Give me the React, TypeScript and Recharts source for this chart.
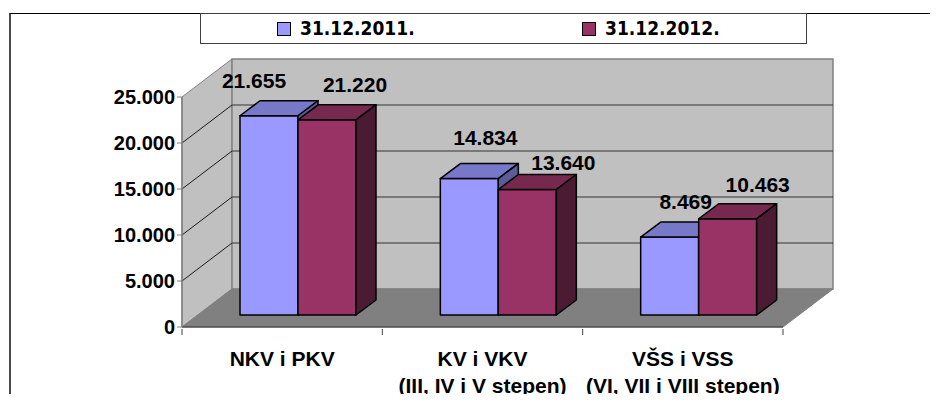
import { BarChart, Bar, XAxis, YAxis, ReferenceArea, ReferenceLine, LabelList } from 'recharts';

const categories = ['NKV i PKV', 'KV i VKV', 'VŠS i VSS'];
const subLabels = ['', '(III, IV i V stepen)', '(VI, VII i VIII stepen)'];
const values2011 = [21655, 14834, 8469];
const values2012 = [21220, 13640, 10463];
const seriesNames = ['31.12.2011.', '31.12.2012.'];
const yTicks = [0, 5000, 10000, 15000, 20000, 25000];

const data = categories.map((name, i) => ({ name, y2011: values2011[i], y2012: values2012[i] }));

const FONT = "'Liberation Sans', Arial, sans-serif";
const LEGEND_FONT = "'DejaVu Sans Condensed', 'DejaVu Sans', sans-serif";

// 3D look: wall depth, bar front offset, bar depth
const WALL = { dx: 50, dy: -38 };
const FRONT = { dx: 16, dy: -12 };
const DEPTH = { dx: 20, dy: -15 };

const BLUE = { front: '#9999FF', top: '#7878C8', side: '#5C5C99' };
const MAROON = { front: '#993366', top: '#76284F', side: '#4B1A33' };

// labels were hand-placed in the original, nudge them per bar [dx, dy]
const NUDGE_2011 = [[-15, -28], [16, -34], [16, -28]];
const NUDGE_2012 = [[28, -28], [36, -20], [30, -27]];

const fmt = (v: number) => String(v).replace(/\B(?=(\d{3})+(?!\d))/g, '.');

function Walls(props: any) {
  const { x, y, width: w, height: h } = props;
  const bx = x + WALL.dx, by = y + WALL.dy;
  return (
    <g>
      <polygon points={`${x},${y} ${bx},${by} ${bx},${by + h} ${x},${y + h}`} fill="#C0C0C0" stroke="#808080" />
      <rect x={bx} y={by} width={w} height={h} fill="#C0C0C0" stroke="#808080" strokeWidth={1.5} />
      <polygon points={`${x},${y + h} ${x + w},${y + h} ${bx + w},${by + h} ${bx},${by + h}`} fill="#808080" stroke="#808080" />
    </g>
  );
}

function GridLine(props: any) {
  const { x1, y1, x2 } = props;
  return (
    <g>
      <line x1={x1} y1={y1} x2={x1 + WALL.dx} y2={y1 + WALL.dy} stroke="#1a1a1a" strokeWidth={1} />
      <line x1={x1 + WALL.dx} y1={y1 + WALL.dy} x2={x2 + WALL.dx} y2={y1 + WALL.dy} stroke="#333" strokeWidth={1.2} />
    </g>
  );
}

function Box3D(props: any) {
  const { x, y, width: w, height: h, colors } = props;
  const X = x + FRONT.dx, Y = y + FRONT.dy;
  const dx = DEPTH.dx, dy = DEPTH.dy;
  const sw = { stroke: '#000', strokeWidth: 1.5, strokeLinejoin: 'round' as const };
  return (
    <g>
      <rect x={X} y={Y} width={w} height={h} fill={colors.front} {...sw} />
      <polygon points={`${X},${Y} ${X + w},${Y} ${X + w + dx},${Y + dy} ${X + dx},${Y + dy}`} fill={colors.top} {...sw} />
      <polygon points={`${X + w},${Y} ${X + w + dx},${Y + dy} ${X + w + dx},${Y + h + dy} ${X + w},${Y + h}`} fill={colors.side} {...sw} />
    </g>
  );
}

const valueLabel = (nudge: number[][]) => (p: any) => {
  const { x, y, width, value, index } = p;
  const [ndx, ndy] = nudge[index] ?? [16, -28];
  return (
    <text x={x + FRONT.dx + width / 2 + ndx} y={y + FRONT.dy + ndy} textAnchor="middle" fontFamily={FONT} fontWeight="bold" fontSize={21} fill="#000">
      {fmt(value)}
    </text>
  );
};

function CategoryTick(props: any) {
  const { x, y, payload, index } = props;
  const half = payload?.offset ?? 100;
  const i = categories.indexOf(payload.value);
  const isLast = index === categories.length - 1;
  return (
    <g>
      <line x1={x - half} y1={y} x2={x - half} y2={y + 6} stroke="#404040" />
      {isLast && <line x1={x + half} y1={y} x2={x + half} y2={y + 6} stroke="#404040" />}
      <text x={x} y={y + 37} textAnchor="middle" fontFamily={FONT} fontWeight="bold" fontSize={21} fill="#000">
        {payload.value}
      </text>
      {subLabels[i] && (
        <text x={x} y={y + 64} textAnchor="middle" fontFamily={FONT} fontWeight="bold" fontSize={21} fill="#000">
          {subLabels[i]}
        </text>
      )}
    </g>
  );
}

function LegendBox() {
  const colors = [BLUE.front, MAROON.front];
  const lefts = [76, 381];
  return (
    <div style={{ position: 'absolute', left: 200, top: 13, width: 605, height: 29, border: '1px solid #404040', background: '#fff' }}>
      {seriesNames.map((n, i) => (
        <div key={n} style={{ position: 'absolute', left: lefts[i], top: 0, height: 29, display: 'flex', alignItems: 'center', gap: 9 }}>
          <span style={{ display: 'inline-block', width: 12, height: 12, background: colors[i], border: '1.5px solid #000' }} />
          <span style={{ fontFamily: LEGEND_FONT, fontStretch: 'condensed', fontWeight: 'bold', fontSize: 19, color: '#000', lineHeight: '29px' }}>{n}</span>
        </div>
      ))}
    </div>
  );
}

export default function App() {
  return (
    <div style={{ position: 'relative', width: 938, height: 402, margin: -8, overflow: 'hidden', background: '#fff' }}>
      <div style={{ position: 'absolute', left: 9, top: 13, width: 1000, height: 1000, borderTop: '1.5px solid #000', borderLeft: '2px solid #4a4a4a' }} />
      <div style={{ position: 'absolute', left: 0, top: 0 }}>
        <BarChart width={938} height={402} data={data} barGap={0} barSize={58} margin={{ top: 97, right: 155, bottom: 15, left: 122 }}>
          <ReferenceArea y1={yTicks[0]} y2={yTicks[yTicks.length - 1]} shape={Walls} zIndex={-120} ifOverflow="visible" />
          {yTicks.slice(1, -1).map(v => (
            <ReferenceLine key={v} y={v} shape={GridLine} zIndex={-110} ifOverflow="visible" />
          ))}
          <XAxis dataKey="name" height={60} interval={0} axisLine={{ stroke: '#333' }} tickLine={false} tickSize={0} tick={<CategoryTick />} />
          <YAxis
            width={60}
            domain={[0, 25000]}
            ticks={yTicks}
            interval={0}
            tickFormatter={fmt}
            axisLine={{ stroke: '#808080', strokeWidth: 1.5 }}
            tickLine={{ stroke: '#808080' }}
            tickSize={5}
            tickMargin={2}
            tick={{ fill: '#000', fontSize: 20, fontWeight: 'bold', fontFamily: FONT }}
          />
          <Bar dataKey="y2011" name={seriesNames[0]} fill={BLUE.front} isAnimationActive={false} shape={(p: any) => <Box3D {...p} colors={BLUE} />}>
            <LabelList dataKey="y2011" content={valueLabel(NUDGE_2011)} />
          </Bar>
          <Bar dataKey="y2012" name={seriesNames[1]} fill={MAROON.front} isAnimationActive={false} shape={(p: any) => <Box3D {...p} colors={MAROON} />}>
            <LabelList dataKey="y2012" content={valueLabel(NUDGE_2012)} />
          </Bar>
        </BarChart>
      </div>
      <LegendBox />
    </div>
  );
}
